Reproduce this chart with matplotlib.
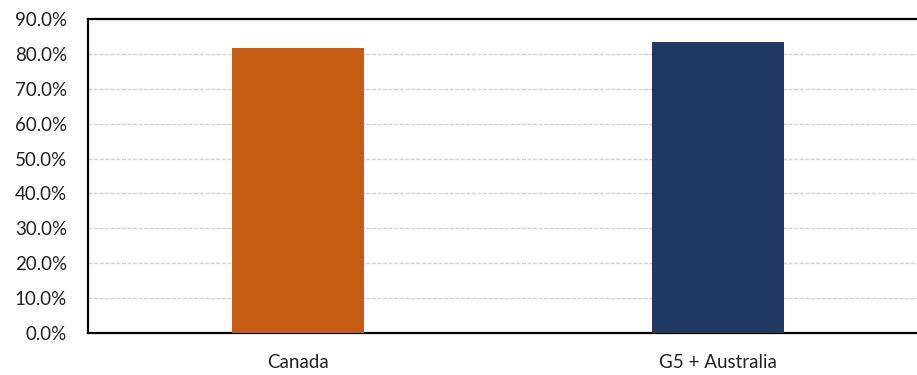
import matplotlib.pyplot as plt
from matplotlib.ticker import PercentFormatter

categories = ["Canada", "G5 + Australia"]
values = [81.6, 83.3]
colors = ["#C55A11", "#203864"]
yticks = [0, 10, 20, 30, 40, 50, 60, 70, 80, 90]

plt.rcParams['font.family'] = ['Lato', 'DejaVu Sans']

fig = plt.figure(figsize=(9.17, 3.75), dpi=100)
ax = fig.add_axes([88 / 917, 42 / 375, 840 / 917, 314 / 375])

x = range(len(categories))
ax.bar(x, values, width=0.315, color=colors, zorder=3)

ax.set_xlim(-0.5, 1.5)
ax.set_ylim(0, 90)
ax.set_yticks(yticks)
ax.yaxis.set_major_formatter(PercentFormatter(decimals=1))
ax.set_xticks(list(x))
ax.set_xticklabels(categories)

ax.grid(axis="y", color="#d4d4d4", linestyle=(0, (3, 1)), linewidth=1, zorder=0)
for side in ["top", "left", "bottom", "right"]:
    ax.spines[side].set_color("black")
    ax.spines[side].set_linewidth(1.6)

ax.tick_params(axis="both", length=0, labelsize=13.5, labelcolor="#222222")
ax.tick_params(axis="y", pad=15)
ax.tick_params(axis="x", pad=15)

fig.savefig("out.png", dpi=100)
